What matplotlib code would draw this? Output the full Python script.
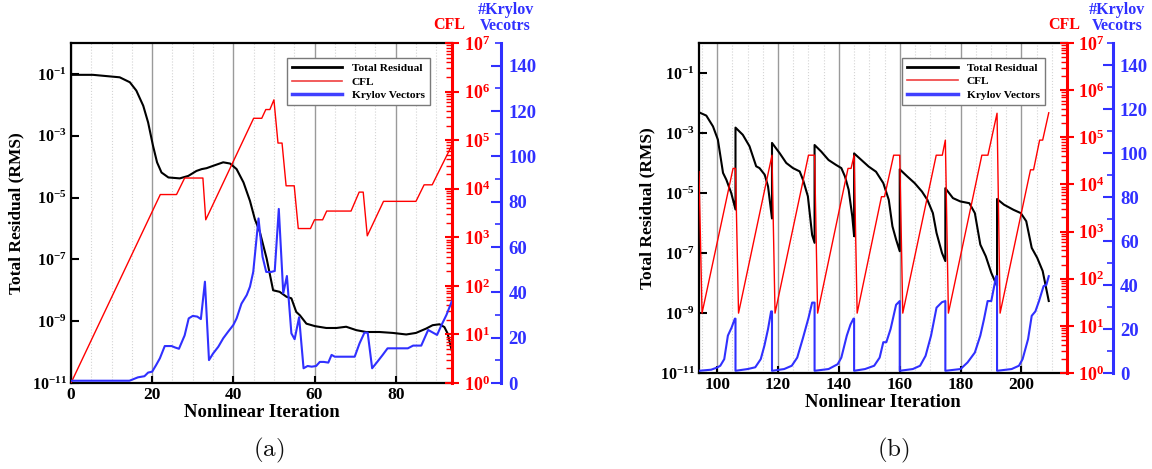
import matplotlib
matplotlib.use('Agg')
import matplotlib.pyplot as plt
import numpy as np
from matplotlib.ticker import FixedLocator, FuncFormatter, LogLocator, MultipleLocator, NullFormatter
from matplotlib.lines import Line2D

plt.rcParams['font.family'] = ['Liberation Serif', 'DejaVu Serif']
plt.rcParams['font.weight'] = 'bold'
plt.rcParams['mathtext.fontset'] = 'custom'
plt.rcParams['mathtext.rm'] = 'Liberation Serif:bold'
plt.rcParams['mathtext.bf'] = 'Liberation Serif:bold'
plt.rcParams['mathtext.it'] = 'Liberation Serif:bold:italic'

# ---------------- Panel (a) data ----------------
res_a_iter = [0, 5.4, 12, 14.5, 16.1, 17.8, 19, 20.2, 21.2, 22.3, 24, 26.8, 28.9, 30.9, 32.2, 33.4,
              35.1, 37.5, 39.2, 40.8, 42.5, 44.1, 45.3, 46.5, 48.2, 49.8, 51.4, 53.1, 54.3, 55.5,
              56.4, 58, 60.1, 62.9, 65.4, 67.8, 70.3, 72.7, 76, 79.3, 82.6, 85, 87.5, 89.1, 90.8,
              92, 92.8, 93.8]
res_a_log10 = [-1.03, -1.03, -1.11, -1.27, -1.54, -2.03, -2.57, -3.32, -3.86, -4.19, -4.35, -4.38,
               -4.30, -4.14, -4.08, -4.05, -3.97, -3.86, -3.90, -4.08, -4.51, -5.11, -5.70, -6.10,
               -6.97, -8.0, -8.05, -8.21, -8.26, -8.70, -8.81, -9.08, -9.16, -9.22, -9.22, -9.18,
               -9.29, -9.35, -9.35, -9.38, -9.43, -9.38, -9.24, -9.13, -9.10, -9.19, -9.40, -9.94]

cfl_a_iter = [0, 22, 26, 28, 32.5, 33.2, 45, 47, 48, 49, 50, 51, 52, 53, 55, 56, 59, 60, 62, 63, 69,
              71, 72, 73, 77, 85, 87, 89, 94]
cfl_a_log10 = [0, 3.88, 3.88, 4.22, 4.22, 3.36, 5.45, 5.45, 5.63, 5.63, 5.83, 4.94, 4.94, 4.06, 4.06,
               3.18, 3.18, 3.36, 3.36, 3.54, 3.54, 3.93, 3.93, 3.03, 3.74, 3.74, 4.08, 4.08, 4.92]

kry_a_iter = [0, 14.4, 16.5, 18.1, 19, 20, 21, 21.9, 23.1, 24.8, 25.6, 26.6, 28, 29, 30, 31.1, 32, 33,
              34, 35, 36.3, 37.5, 38.7, 40, 40.8, 42, 43.3, 44.1, 44.9, 46.2, 47.2, 48.1, 49.3, 50.2,
              51.2, 52.3, 53.2, 54.3, 55.1, 56.2, 57.3, 58.3, 59.3, 60.4, 61.3, 62.3, 63.4, 64.2, 65,
              69.9, 71.1, 72.3, 73.1, 74.2, 75.5, 76.8, 78, 83, 84.3, 86.3, 88, 89.2, 90.2, 91.3,
              92.5, 93.8]
kry_a_vals = [1, 1, 2.5, 3, 4.6, 5, 8, 10.9, 16.3, 16.3, 15.7, 15.1, 21, 28.5, 29.6, 29.3, 28.2, 44.7,
              10.1, 13, 16, 19.7, 22.6, 25.6, 28.5, 35, 38.8, 42.5, 49, 72.6, 55.7, 49, 49, 49.4,
              76.8, 39.6, 47.2, 21.9, 19.3, 29, 6.5, 7.5, 7.2, 7.5, 9.3, 9.3, 9, 12.4, 11.6,
              11.6, 17.5, 22.2, 22.2, 6.5, 9.4, 12.4, 15.3, 15.3, 16.5, 16.5, 23.4, 22.2, 21.2, 25.6,
              30, 35.9]

# ---------------- Panel (b) data ----------------
res_b_iter = [94, 96.4, 98.6, 100.2, 101.9, 103, 104.6, 106,
              106, 108.4, 110.6, 112.8, 113.9, 115.6, 116.7, 118,
              118, 120.5, 122.7, 124.9, 127.1, 128.2, 129.8, 131.2, 132,
              132, 134.2, 136.6, 139, 140.8, 142, 143.2, 144.4, 145,
              145, 147.4, 149.8, 152.2, 154.6, 156.4, 157.6, 158.8, 160,
              160, 162.5, 164.9, 167.3, 169.1, 170.9, 172.1, 173.9, 175,
              175, 177.5, 179.9, 182.9, 184.7, 186.5, 188.3, 190.1, 192,
              192, 194.3, 197.4, 199.8, 201.6, 203.4, 205.2, 207, 209]
res_b_log10 = [-2.31, -2.42, -2.78, -3.22, -4.33, -4.56, -5.0, -5.55,
               -2.82, -3.06, -3.44, -4.11, -4.17, -4.39, -4.78, -5.85,
               -3.33, -3.67, -4.0, -4.17, -4.28, -4.56, -5.11, -6.4, -6.66,
               -3.40, -3.62, -3.90, -4.06, -4.17, -4.45, -4.89, -5.78, -6.44,
               -3.68, -3.90, -4.12, -4.29, -4.67, -5.23, -6.11, -6.55, -6.94,
               -4.21, -4.45, -4.67, -4.95, -5.23, -5.67, -6.33, -7.0, -7.27,
               -4.84, -5.17, -5.28, -5.34, -5.67, -6.72, -7.11, -7.66, -8.10,
               -5.20, -5.39, -5.56, -5.67, -5.94, -6.83, -7.16, -7.60, -8.60]

cfl_b_iter = [94, 95, 105.2, 106, 107, 118, 119, 130, 132, 133, 143, 144, 145, 146, 154, 155, 158,
              160, 161, 172, 174, 175, 176, 187, 189, 192, 193, 203, 204, 206, 207, 209]
cfl_b_log10 = [4.27, 1.27, 4.34, 4.34, 1.27, 4.62, 1.27, 4.62, 4.62, 1.27, 4.34, 4.34, 4.62, 1.27,
               3.74, 3.74, 4.62, 4.62, 1.27, 4.62, 4.62, 4.94, 1.27, 4.62, 4.62, 5.51, 1.27, 4.31,
               4.31, 4.94, 4.94, 5.52]

kry_b_iter = [94, 98, 100, 101, 102.3, 103.5, 104.7, 105.8, 106,
              106, 110, 112.5, 114.3, 115.5, 116.7, 117.7, 118,
              118, 122, 124.5, 126.3, 128.2, 130, 131.2, 132,
              132, 136.6, 139.6, 140.8, 142.6, 143.8, 144.8, 145,
              145, 148.6, 151.6, 153.4, 154.6, 155.6, 157, 158.8, 160,
              160, 164.3, 166.7, 168.5, 170.3, 172.1, 173.9, 175,
              175, 180, 182.3, 184.7, 186.5, 187.7, 188.9, 190.1, 191.7, 192,
              192, 196.8, 199.2, 200.4, 202.2, 203.4, 204.6, 205.8, 207.3, 208.2, 209]
kry_b_vals = [1, 1.5, 2.5, 3.3, 6.3, 17, 20.6, 24.7, 24.7,
              1, 1.8, 2.6, 6.3, 12.4, 20, 28, 28,
              1, 1.8, 3.3, 7, 16, 25, 32, 32,
              1, 1.8, 4, 7, 17, 22, 24.7, 24.7,
              1, 1.8, 3.3, 7, 14, 14, 20, 31, 32.7,
              1, 1.8, 3.3, 7.8, 17, 29.7, 32.2, 32.7,
              1, 1.8, 4.8, 9.3, 17, 24.4, 32.7, 32.7, 44, 44,
              1, 1.8, 3.3, 6.3, 15.4, 26, 28, 32.7, 39.5, 40, 44]

legend_labels = ['Total Residual', 'CFL', 'Krylov Vectors']

RED = '#ff0000'
BLUE = '#3030ff'
W, H = 1152, 469

fig = plt.figure(figsize=(W / 100, H / 100), dpi=100)


def pw(x):
    return x / W


def ph(y):
    return 1 - y / H


def log_fmt(v, pos):
    e = int(round(np.log10(v)))
    return r'$\mathbf{10^{%d}}$' % e


def panel(left, top, right, bottom, xlim, xmajor, res_x, res_l, cfl_x, cfl_l, kry_x, kry_v, tag,
          blue_off_px, tag_x, xlabel_dy, ylabel_x):
    rect = [pw(left), ph(bottom), pw(right - left), (bottom - top) / H]
    ax = fig.add_axes(rect)
    ax.set_yscale('log')
    ax.set_ylim(1e-11, 1)
    ax.set_xlim(*xlim)
    ax.xaxis.set_major_locator(FixedLocator(xmajor))
    ax.xaxis.set_minor_locator(MultipleLocator(5))
    ax.grid(True, which='major', axis='x', color='#9a9a9a', lw=1.0)
    ax.grid(True, which='minor', axis='x', color='#d4d4d4', lw=0.8, ls=':')
    ax.yaxis.set_major_locator(FixedLocator([10.0 ** e for e in range(-11, 0, 2)]))
    ax.yaxis.set_minor_locator(FixedLocator([]))
    ax.yaxis.set_major_formatter(FuncFormatter(log_fmt))
    ax.tick_params(axis='y', which='major', direction='in', length=6, width=1.5, labelsize=11.5,
                   pad=3, right=False)
    ax.tick_params(axis='x', which='major', direction='in', length=5, width=1.5, labelsize=12.5,
                   pad=3, top=False)
    ax.tick_params(axis='x', which='minor', length=0)
    for s in ['left', 'bottom', 'top']:
        ax.spines[s].set_linewidth(1.6)
    ax.spines['right'].set_visible(False)
    ax.set_xlabel('Nonlinear Iteration', fontsize=13.5, fontweight='bold')
    ax.xaxis.set_label_coords(0.5, xlabel_dy)
    ax.xaxis.label.set_va('center')
    ax.set_ylabel('Total Residual (RMS)', fontsize=12.5, fontweight='bold')
    ax.yaxis.set_label_coords(ylabel_x, 0.5)
    ax.yaxis.label.set_va('center')

    ax1 = ax.twinx()
    ax1.set_yscale('log')
    ax1.set_ylim(1, 1e7)
    ax1.yaxis.set_major_locator(LogLocator(base=10, numticks=10))
    ax1.yaxis.set_minor_locator(LogLocator(base=10, subs=np.arange(2, 10), numticks=20))
    ax1.yaxis.set_major_formatter(FuncFormatter(log_fmt))
    ax1.yaxis.set_minor_formatter(NullFormatter())
    ax1.tick_params(axis='y', which='major', direction='inout', length=10, width=1.5, colors=RED,
                    labelsize=13, pad=3)
    ax1.tick_params(axis='y', which='minor', direction='in', length=4, width=1.0, colors=RED)
    for s in ['left', 'bottom', 'top']:
        ax1.spines[s].set_visible(False)
    ax1.spines['right'].set_color(RED)
    ax1.spines['right'].set_linewidth(2.2)

    ax2 = ax.twinx()
    ax2.set_ylim(0, 150)
    ax2.spines['right'].set_position(('outward', blue_off_px * 0.72))
    ax2.yaxis.set_major_locator(MultipleLocator(20))
    ax2.yaxis.set_minor_locator(MultipleLocator(10))
    ax2.tick_params(axis='y', which='major', direction='in', length=7, width=1.5, colors=BLUE,
                    labelsize=13.5, pad=5)
    ax2.tick_params(axis='y', which='minor', direction='in', length=4, width=1.2, colors=BLUE)
    for s in ['left', 'bottom', 'top']:
        ax2.spines[s].set_visible(False)
    ax2.spines['right'].set_color(BLUE)
    ax2.spines['right'].set_linewidth(2.2)

    ax.plot(res_x, 10.0 ** np.array(res_l), color='black', lw=1.5, zorder=5)
    ax1.plot(cfl_x, 10.0 ** np.array(cfl_l), color=RED, lw=1.0)
    ax2.plot(kry_x, kry_v, color=BLUE, lw=1.5)

    handles = [Line2D([], [], color='black', lw=2.0),
               Line2D([], [], color='#f04040', lw=1.2),
               Line2D([], [], color='#4040ff', lw=2.5)]
    leg = ax2.legend(handles, legend_labels, loc='upper right', bbox_to_anchor=(0.955, 0.972),
                     prop={'family': 'Liberation Serif', 'weight': 'bold', 'size': 8.2},
                     handlelength=4.4, handletextpad=0.8, labelspacing=0.3, borderpad=0.45,
                     frameon=True, fancybox=False, framealpha=1, edgecolor='#7a7a7a')
    leg.get_frame().set_linewidth(1.0)

    # axis titles above the right axes
    red_x = right
    blue_x = right + blue_off_px
    fig.text(pw(red_x - 3), ph(25), 'CFL', color=RED, fontsize=11.5, fontweight='bold',
             ha='center', va='center')
    fig.text(pw(blue_x + 4), ph(18), '#Krylov\nVecotrs', color=BLUE, fontsize=11.5,
             fontweight='bold', ha='center', va='center', linespacing=0.95)
    fig.text(pw(tag_x), ph(450), r'$\mathrm{(%s)}$' % tag, math_fontfamily='cm', fontsize=18,
             ha='center', va='center', color='#111111')
    return ax


panel(71, 43, 452.5, 383, (0, 94), [0, 20, 40, 60, 80], res_a_iter, res_a_log10,
      cfl_a_iter, cfl_a_log10, kry_a_iter, kry_a_vals, 'a', 49, 269, -0.088, -0.143)
panel(699, 43, 1067, 373, (94, 215), [100, 120, 140, 160, 180, 200], res_b_iter, res_b_log10,
      cfl_b_iter, cfl_b_log10, kry_b_iter, kry_b_vals, 'b', 46, 893, -0.088, -0.14)

fig.savefig('out.png', dpi=100)
